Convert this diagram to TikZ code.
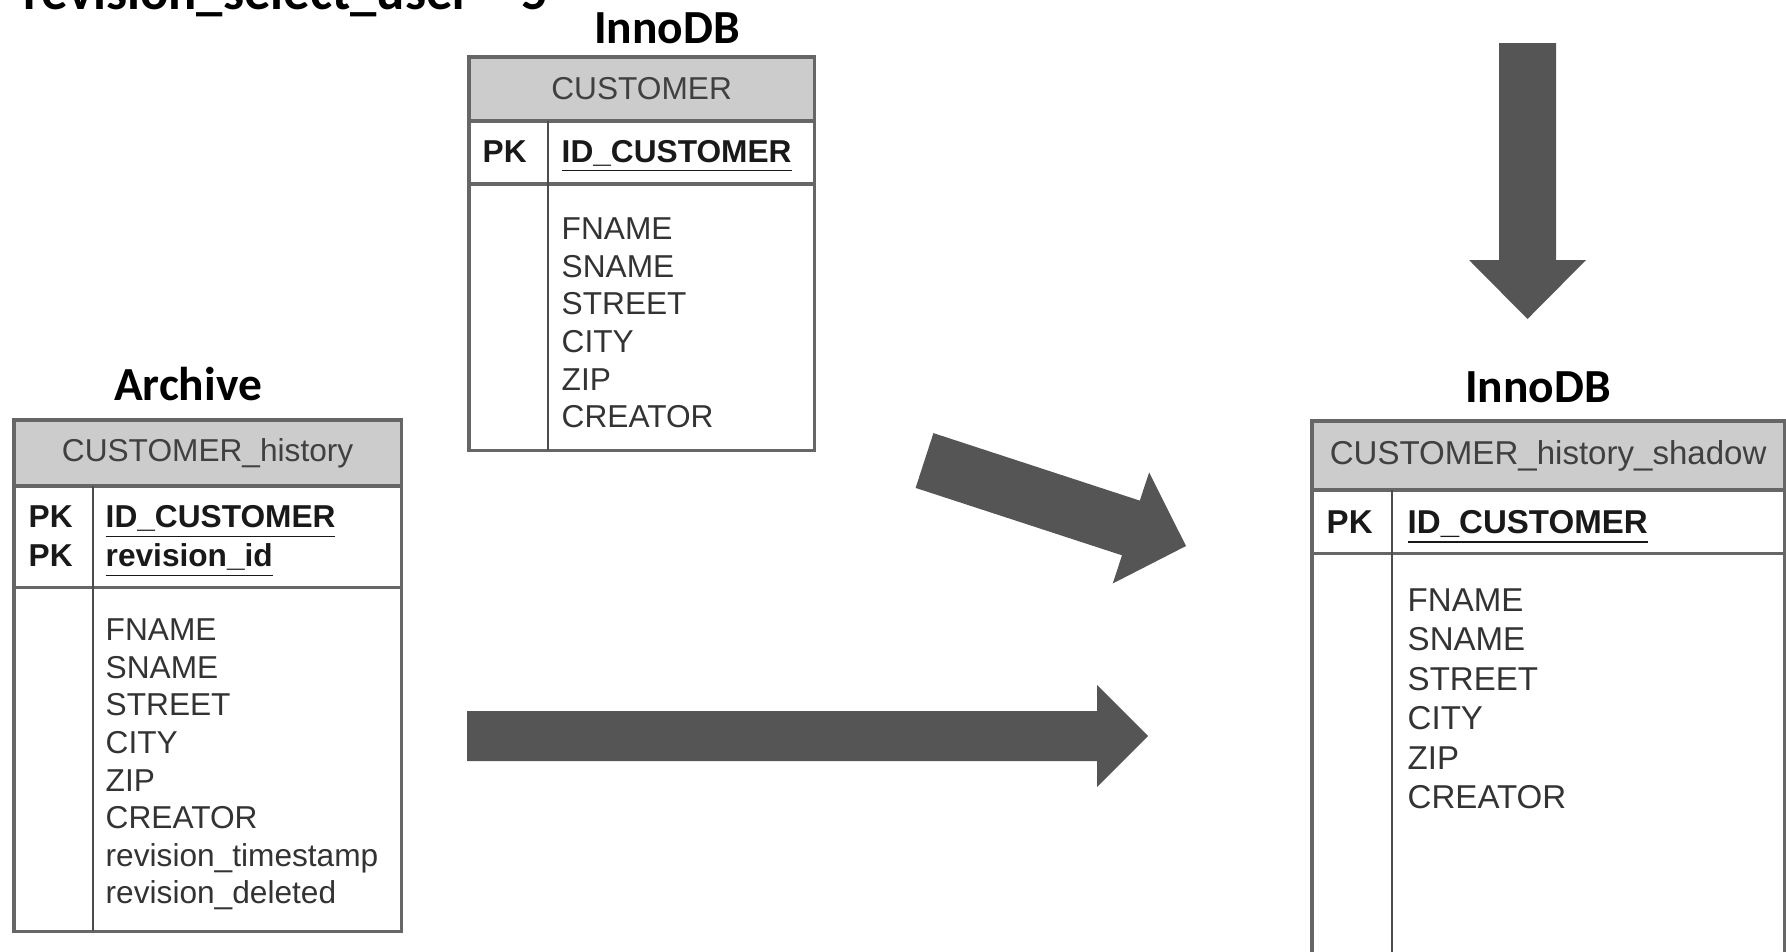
\documentclass[tikz,border=0pt]{standalone}
\usepackage{fontspec}
\setmainfont{Liberation Sans}
\newfontfamily\labelfont{Carlito}
\usepackage{xcolor}
\usepackage{tikz}
\usetikzlibrary{positioning,calc}

\definecolor{arrowgray}{HTML}{555555}

\begin{document}
\begin{tikzpicture}[
    x=0.01cm, y=-0.01cm,
    tblhead/.style={rectangle, draw=black!60, fill=black!20, line width=0.9pt, inner sep=0pt, outer sep=0pt, text=black!75, font=\fontsize{9}{10.7}\selectfont},
    tblbox/.style={rectangle, draw=black!60, line width=0.9pt, inner sep=0pt, outer sep=0pt},
    tblline/.style={draw=black!70, line width=0.8pt},
    keytxt/.style={inner sep=0pt, align=left, text=black!90, font=\bfseries\fontsize{9}{11}\selectfont},
    fieldlist/.style={anchor=north west, inner sep=0pt, align=left, text=black!80, font=\fontsize{9}{10.7}\selectfont},
    dblabel/.style={inner sep=0pt, font=\labelfont\bfseries\fontsize{13.5}{16}\selectfont},
    blockarrow/.style={fill=arrowgray}
]
    \useasboundingbox (0,0) rectangle (1786,951);
    \clip (0,0) rectangle (1786,951);

    % title, cut at the top edge
    \node [dblabel, anchor=base west, font=\labelfont\bfseries\fontsize{15}{18}\selectfont] (title) at (23,9) {revision\_select\_user = 5};

    % labels
    \node [dblabel] (lbl-inno1) at (667,28) {InnoDB};
    \node [dblabel] (lbl-arch) at (188,384) {Archive};
    \node [dblabel] (lbl-inno2) at (1538,387) {InnoDB};

    % CUSTOMER
    \node [tblhead, minimum width=3.45cm, minimum height=0.64cm, anchor=north west] (cust-head) at (469,57) {CUSTOMER};
    \node [tblbox, minimum width=3.45cm, minimum height=0.63cm, below=0pt of cust-head] (cust-keys) {};
    \node [tblbox, minimum width=3.45cm, minimum height=2.66cm, below=0pt of cust-keys] (cust-body) {};
    \draw [tblline] ([xshift=0.79cm]cust-keys.north west) -- ([xshift=0.79cm]cust-body.south west);
    \node [keytxt, anchor=base west] (cust-pk) at (482,162) {PK};
    \node [keytxt, anchor=base west] (cust-id) at (561,162) {\underline{ID\_CUSTOMER}};
    \node [fieldlist] (cust-fields) at (561,217) {FNAME\\SNAME\\STREET\\CITY\\ZIP\\CREATOR};

    % CUSTOMER_history
    \node [tblhead, minimum width=3.87cm, minimum height=0.66cm, anchor=north west] (hist-head) at (14,420) {CUSTOMER\_history};
    \node [tblbox, minimum width=3.87cm, minimum height=1.01cm, below=0pt of hist-head] (hist-keys) {};
    \node [tblbox, minimum width=3.87cm, minimum height=3.44cm, below=0pt of hist-keys] (hist-body) {};
    \draw [tblline] ([xshift=0.79cm]hist-keys.north west) -- ([xshift=0.79cm]hist-body.south west);
    \node [keytxt, anchor=north west] (hist-pk) at (28,505) {PK\\PK};
    \node [keytxt, anchor=north west] (hist-id) at (105,505) {\underline{ID\_CUSTOMER}\\\underline{revision\_id}};
    \node [fieldlist] (hist-fields) at (105,618) {FNAME\\SNAME\\STREET\\CITY\\ZIP\\CREATOR\\revision\_timestamp\\revision\_deleted};

    % CUSTOMER_history_shadow
    \node [tblhead, minimum width=4.72cm, minimum height=0.69cm, anchor=north west, font=\fontsize{9.4}{11.2}\selectfont] (shad-head) at (1312,421) {CUSTOMER\_history\_shadow};
    \node [tblbox, minimum width=4.72cm, minimum height=0.63cm, below=0pt of shad-head] (shad-keys) {};
    \node [tblbox, minimum width=4.72cm, minimum height=4.17cm, below=0pt of shad-keys] (shad-body) {};
    \draw [tblline] ([xshift=0.80cm]shad-keys.north west) -- ([xshift=0.80cm]shad-body.south west);
    \node [keytxt, anchor=base west, font=\bfseries\fontsize{9.4}{11.2}\selectfont] (shad-pk) at (1326,533) {PK};
    \node [keytxt, anchor=base west, font=\bfseries\fontsize{9.4}{11.2}\selectfont] (shad-id) at (1407,533) {\underline{ID\_CUSTOMER}};
    \node [fieldlist, font=\fontsize{9.4}{11.2}\selectfont] (shad-fields) at (1407,588) {FNAME\\SNAME\\STREET\\CITY\\ZIP\\CREATOR};

    % block arrows
    \fill [blockarrow] (1499,43) -- (1556,43) -- (1556,260) -- (1586,260) -- (1527.5,319) -- (1469,260) -- (1499,260) -- cycle;
    \fill [blockarrow] (933.4,433.1) -- (1139.8,500.6) -- (1149.1,472.4) -- (1186,546) -- (1112.7,583.5) -- (1122,555.3) -- (915.6,487.9) -- cycle;
    \fill [blockarrow] (467,711) -- (1097,711) -- (1097,685) -- (1148,736) -- (1097,787) -- (1097,761) -- (467,761) -- cycle;
\end{tikzpicture}
\end{document}
